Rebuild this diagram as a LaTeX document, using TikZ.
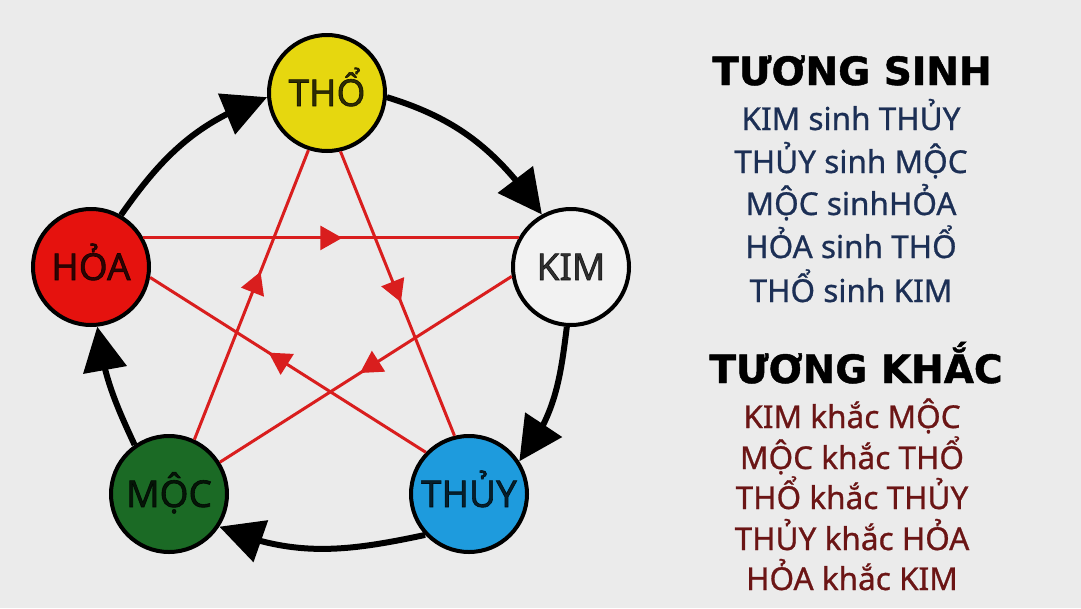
\documentclass[tikz,border=0pt]{standalone}
\usepackage{fontspec}
\setmainfont{Noto Sans}
\newfontfamily\headfont[FakeBold=1.2]{DejaVu Sans}
\newfontfamily\circfont[FakeBold=1.6]{Noto Sans}
\newfontfamily\listfont[FakeBold=0.8]{Noto Sans}
\usetikzlibrary{arrows.meta,bending,decorations.markings}

\definecolor{fondo}{HTML}{EBEBEB}
\definecolor{tho}{HTML}{E6D70F}
\definecolor{kim}{HTML}{F2F2F2}
\definecolor{thuy}{HTML}{1E9BDD}
\definecolor{moc}{HTML}{1B6A25}
\definecolor{hoa}{HTML}{E5120E}
\definecolor{estrella}{HTML}{D91E1E}
\definecolor{azul}{HTML}{1C2F55}
\definecolor{granate}{HTML}{6B1515}

\tikzset{
	elemento/.style = {circle, draw = black, line width = 4pt,
		minimum size = 116pt, inner sep = 0pt,
		text height = 26pt, text depth = 0pt,
		font = \circfont\fontsize{37}{44}\selectfont, text = black, text opacity = .8},
	sinh/.style = {draw = black, line width = 6pt,
		-{Triangle[length = 44pt, width = 43pt, flex]}},
	khac/.style = {draw = estrella, line width = 3pt,
		postaction = {decorate},
		decoration = {markings, mark = at position #1 with
			{\arrow{Triangle[length = 22pt, width = 24pt]}}}},
	khac/.default = .55
}

\begin{document}
\begin{tikzpicture}[x = 1pt, y = 1pt]
\fill[fondo] (0,0) rectangle (1081,-608);
\useasboundingbox (0,0) rectangle (1081,-608);

% Nodos
\begin{scope}[every node/.style = {elemento}]
	\node[fill = tho] (THO) at (327,-93) {THỔ};
	\node[fill = kim] (KIM) at (571,-267) {KIM};
	\node[fill = thuy] (THUY) at (469,-494) {THỦY};
	\node[fill = moc] (MOC) at (169,-494) {MỘC};
	\node[fill = hoa] (HOA) at (91,-267) {HỎA};
\end{scope}

% Tuong sinh
\draw[sinh] (HOA.60) to[out = 55, in = 199] (THO.184);
\draw[sinh] (THO.356) to[out = 343, in = 125] (KIM.119);
\draw[sinh] (KIM.266) to[out = 263, in = 51] (THUY.33);
\draw[sinh] (THUY.223) to[out = 192, in = 337] (MOC.327);
\draw[sinh] (MOC.125) to[out = 115, in = 277] (HOA.276);

% Tuong khac
\draw[khac = .53] (HOA.29) -- (KIM.151);
\draw[khac = .53] (THO.283) -- (THUY.104);
\draw[khac = .58] (MOC.65) -- (THO.252);
\draw[khac = .57] (THUY.136) -- (HOA.350);
\draw[khac = .52] (KIM.189) -- (MOC.32);

% Texto
\begin{scope}[every node/.style = {anchor = base,
		font = \listfont\fontsize{31.5}{37}\selectfont}]
	\node[font = \headfont\bfseries\fontsize{39}{46}\selectfont] (TS) at (852,-85) {TƯƠNG SINH};
	\node[text = azul] (TS1) at (851,-130) {KIM sinh THỦY};
	\node[text = azul] (TS2) at (851,-173) {THỦY sinh MỘC};
	\node[text = azul] (TS3) at (851,-215) {MỘC sinhHỎA};
	\node[text = azul] (TS4) at (851,-258) {HỎA sinh THỔ};
	\node[text = azul] (TS5) at (851,-302) {THỔ sinh KIM};
	\node[font = \headfont\bfseries\fontsize{39}{46}\selectfont] (TK) at (856,-383) {TƯƠNG KHẮC};
	\node[text = granate] (TK1) at (852,-428) {KIM khắc MỘC};
	\node[text = granate] (TK2) at (852,-469) {MỘC khắc THỔ};
	\node[text = granate] (TK3) at (852,-509) {THỔ khắc THỦY};
	\node[text = granate] (TK4) at (852,-550) {THỦY khắc HỎA};
	\node[text = granate] (TK5) at (852,-590) {HỎA khắc KIM};
\end{scope}
\end{tikzpicture}
\end{document}
